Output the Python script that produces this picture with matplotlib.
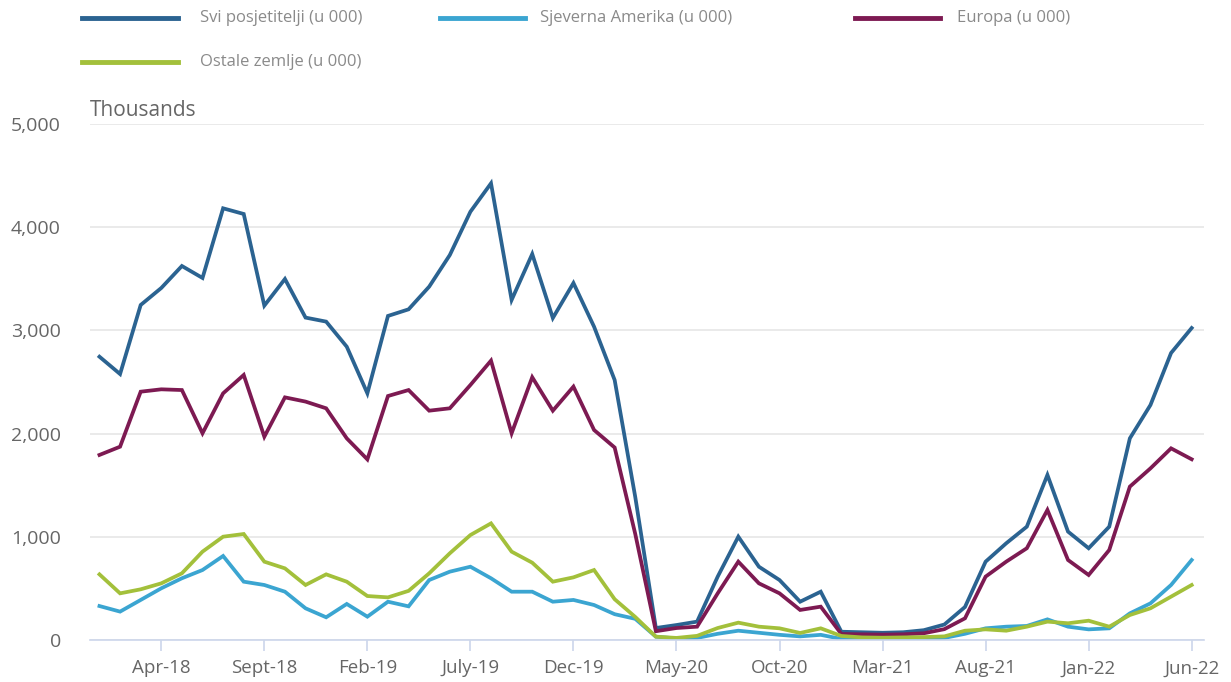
import numpy as np
import matplotlib
matplotlib.use('Agg')
import matplotlib.pyplot as plt
from matplotlib.lines import Line2D

plt.rcParams['font.family'] = ['Open Sans', 'DejaVu Sans']

# monthly data, Jan-18 .. Jun-22, in thousands
n_months = 54

svi = [2745, 2577, 3246, 3411, 3624, 3508, 4183, 4128, 3240, 3498, 3124, 3085,
       2842, 2390, 3140, 3204, 3424, 3730, 4150, 4425, 3295, 3740, 3120, 3459,
       3036, 2519, 1385, 116, 145, 178, 614, 1001, 710, 581, 371, 468,
       80, 75, 70, 75, 95, 150, 320, 759, 937, 1098, 1599, 1050,
       889, 1098, 1954, 2277, 2781, 3023]
sjeverna = [329, 275, 388, 501, 598, 678, 814, 565, 533, 468, 307, 220,
            349, 226, 371, 326, 581, 662, 710, 598, 468, 468, 371, 388,
            339, 250, 205, 32, 15, 20, 60, 90, 70, 50, 35, 50,
            10, 8, 8, 10, 12, 20, 60, 113, 129, 136, 200, 129,
            103, 113, 258, 355, 533, 775]
europa = [1793, 1873, 2406, 2429, 2422, 2003, 2390, 2568, 1970, 2351, 2310, 2245,
          1954, 1750, 2364, 2422, 2222, 2245, 2471, 2707, 2003, 2546, 2222, 2455,
          2035, 1865, 1027, 85, 116, 129, 452, 759, 549, 452, 291, 323,
          58, 55, 52, 55, 65, 105, 210, 614, 759, 889, 1260, 775,
          630, 872, 1486, 1663, 1857, 1751]
ostale = [636, 452, 491, 549, 646, 856, 1001, 1027, 759, 694, 533, 636,
          565, 426, 413, 476, 646, 840, 1017, 1130, 856, 749, 565, 607,
          678, 395, 223, 32, 20, 40, 116, 168, 129, 113, 68, 113,
          39, 25, 22, 25, 28, 35, 90, 103, 90, 129, 178, 162,
          187, 129, 242, 307, 420, 533]

series_labels = ['Svi posjetitelji (u 000)', 'Sjeverna Amerika (u 000)',
                 'Europa (u 000)', 'Ostale zemlje (u 000)']
series_colors = ['#2b6391', '#3ba5d1', '#7d1a52', '#a3c03b']

tick_idx = [3, 8, 13, 18, 23, 28, 33, 38, 43, 48, 53]
tick_labels = ['Apr-18', 'Sept-18', 'Feb-19', 'July-19', 'Dec-19', 'May-20',
               'Oct-20', 'Mar-21', 'Aug-21', 'Jan-22', 'Jun-22']
y_ticks = [0, 1000, 2000, 3000, 4000, 5000]

fig = plt.figure(figsize=(12.31, 6.82), dpi=100)
ax = fig.add_axes([0.0731, 0.0616, 0.905, 0.7566])

x = np.arange(n_months)
for vals, lab, col in zip([svi, sjeverna, europa, ostale], series_labels, series_colors):
    ax.plot(x, vals, color=col, lw=2.7, solid_joinstyle='miter', label=lab)

ax.set_xlim(-0.46, 53.6)
ax.set_ylim(0, 5000)
ax.set_yticks(y_ticks)
ax.set_yticklabels([f'{v:,}' for v in y_ticks])
ax.set_xticks(tick_idx)
ax.set_xticklabels(tick_labels)
ax.grid(axis='y', color='#e6e6e6', lw=1.2)
ax.set_axisbelow(True)
for s in ['top', 'right', 'left']:
    ax.spines[s].set_visible(False)
ax.spines['bottom'].set_color('#ccd6eb')
ax.spines['bottom'].set_linewidth(1.2)
ax.tick_params(axis='x', colors='#ccd6eb', length=8, width=1.2, labelcolor='#666666',
               labelsize=13.5, pad=6)
ax.tick_params(axis='y', length=0, labelcolor='#666666', labelsize=14, pad=21)

ax.text(0, 1.005, 'Thousands', transform=ax.transAxes, fontsize=15, color='#666666',
        ha='left', va='bottom')

# legend drawn by hand to match the free placement
leg_pos = [(82, 178, 200, 18), (440, 525, 540, 18), (855, 940, 957, 18), (82, 178, 200, 62)]
W, H = 1231, 682
for (x0, x1, tx, yy), lab, col in zip(leg_pos, series_labels, series_colors):
    fig.add_artist(Line2D([x0 / W, x1 / W], [1 - yy / H, 1 - yy / H], color=col, lw=3.5,
                          transform=fig.transFigure))
    fig.text(tx / W, 1 - yy / H, lab, fontsize=12, color='#8a8a8a', ha='left', va='center')

fig.savefig('out.png', dpi=100)
